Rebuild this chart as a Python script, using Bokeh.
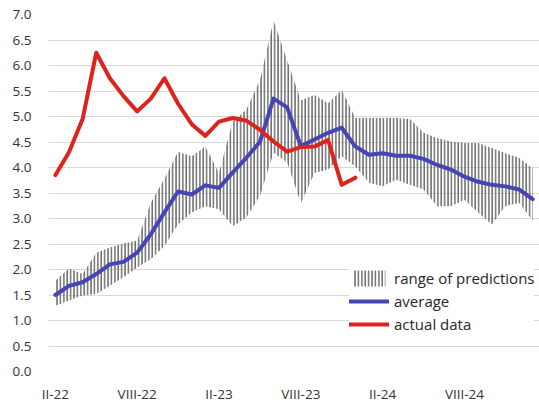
from bokeh.plotting import figure
from bokeh.models import Range1d, FixedTicker, PrintfTickFormatter, Legend, LegendItem
from bokeh.embed import file_html
from bokeh.resources import INLINE

# ---- data (monthly, starting II-22) ----
tick_pos = [0, 6, 12, 18, 24, 30]
tick_labels = ["II-22", "VIII-22", "II-23", "VIII-23", "II-24", "VIII-24"]

actual = [3.85, 4.3, 4.95, 6.25, 5.75, 5.4, 5.1, 5.35, 5.75, 5.25, 4.85, 4.62,
          4.9, 4.97, 4.92, 4.74, 4.51, 4.31, 4.4, 4.41, 4.54, 3.66, 3.8]

average = [1.5, 1.68, 1.75, 1.91, 2.1, 2.15, 2.33, 2.69, 3.12, 3.53, 3.47, 3.65,
           3.6, 3.9, 4.19, 4.5, 5.35, 5.18, 4.42, 4.55, 4.68, 4.78, 4.41, 4.25,
           4.28, 4.23, 4.23, 4.17, 4.05, 3.96, 3.82, 3.72, 3.66, 3.63, 3.57, 3.38]

pred_low = [1.29, 1.39, 1.49, 1.52, 1.68, 1.85, 2.04, 2.2, 2.46, 2.88, 3.12, 3.24,
            3.18, 2.85, 3.02, 3.44, 4.29, 4.1, 3.3, 3.89, 3.96, 4.22, 4.02, 3.7,
            3.63, 3.76, 3.66, 3.57, 3.24, 3.24, 3.37, 3.12, 2.88, 3.24, 3.31, 2.96]

pred_high = [1.78, 2.02, 1.91, 2.33, 2.43, 2.51, 2.57, 3.31, 3.78, 4.31, 4.22, 4.41,
             3.89, 4.9, 5.13, 5.71, 6.88, 6.1, 5.32, 5.42, 5.26, 5.52, 4.97, 4.97,
             4.97, 4.97, 4.95, 4.68, 4.58, 4.51, 4.48, 4.48, 4.38, 4.28, 4.19, 3.98]

x_avg = list(range(len(average)))
x_act = list(range(len(actual)))

p = figure(width=539, height=405, output_backend="svg", toolbar_location=None,
           x_range=Range1d(-0.5, 35.5), y_range=Range1d(0, 7),
           min_border_left=48, min_border_right=0, min_border_top=14,
           min_border_bottom=32)
p.outline_line_color = None
p.background_fill_color = "white"
p.border_fill_color = "white"

FONT = "Open Sans"
TXT = "#333333"

# axes
p.xaxis.ticker = FixedTicker(ticks=tick_pos)
p.xaxis.major_label_overrides = {t: l for t, l in zip(tick_pos, tick_labels)}
p.yaxis.ticker = FixedTicker(ticks=[i * 0.5 for i in range(15)])
p.yaxis.formatter = PrintfTickFormatter(format="%.1f")
for ax in (p.xaxis[0], p.yaxis[0]):
    ax.axis_line_color = None
    ax.major_tick_line_color = None
    ax.minor_tick_line_color = None
    ax.major_tick_out = 0
    ax.major_tick_in = 0
    ax.major_label_text_font = FONT
    ax.major_label_text_font_size = "13.5px"
    ax.major_label_text_color = TXT
p.yaxis.major_label_standoff = 17
p.xaxis.major_label_standoff = 13

p.xgrid.grid_line_color = None
p.ygrid.grid_line_color = "#d9d9d9"
p.ygrid.grid_line_width = 1

# range band (vertical line pattern)
band = p.varea(x=x_avg, y1=pred_low, y2=pred_high, fill_alpha=0,
               hatch_pattern="vertical_line", hatch_color="#6e6e6e",
               hatch_weight=1.6, hatch_scale=3.4)

avg_r = p.line(x_avg, average, line_color="#4545B5", line_width=4,
               line_join="round", line_cap="round")
act_r = p.line(x_act, actual, line_color="#DF231C", line_width=4,
               line_join="round", line_cap="round")

legend = Legend(items=[LegendItem(label="range of predictions", renderers=[band]),
                       LegendItem(label="average", renderers=[avg_r]),
                       LegendItem(label="actual data", renderers=[act_r])],
                location=(301, 37), margin=0, padding=6, spacing=3,
                glyph_width=40, glyph_height=20, label_height=20,
                label_standoff=5, border_line_color=None,
                background_fill_color="white", background_fill_alpha=1,
                label_text_font=FONT, label_text_font_size="15px",
                label_text_color="#262626")
p.add_layout(legend)

open("out.html", "w").write(file_html(p, INLINE))
